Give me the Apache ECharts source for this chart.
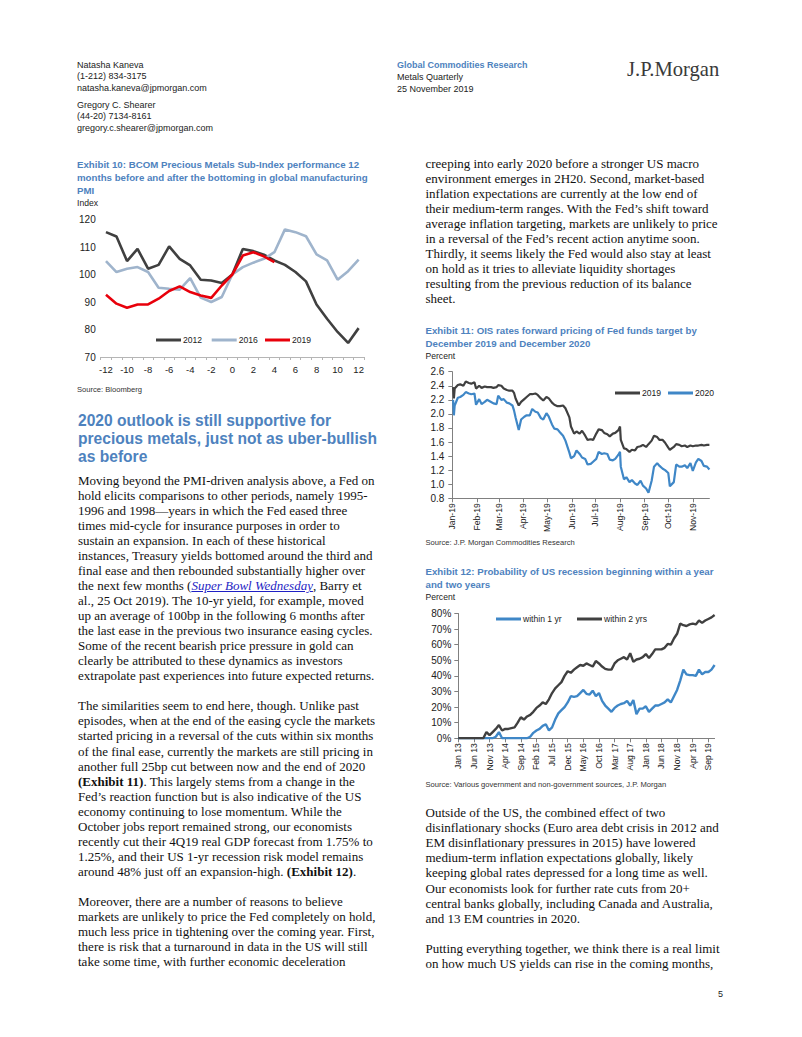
<!DOCTYPE html>
<html>
<head>
<meta charset="utf-8">
<script src="https://cdn.jsdelivr.net/npm/echarts@6/dist/echarts.min.js"></script>
<style>
  html, body { margin:0; padding:0; background:#fff; }
  #page { position:relative; width:802px; height:1037px; overflow:hidden; background:#fff; }
  #chart { position:absolute; left:0; top:0; width:802px; height:1037px; z-index:2; }
  .t { position:absolute; white-space:nowrap; z-index:1; }
  .sans { font-family:"Liberation Sans", Arial, sans-serif; }
  .serif { font-family:"Liberation Serif", "Times New Roman", serif; }
  .hdr { font-size:9px; line-height:11.3px; color:#222; }
  .blue { color:#4E82BE; }
  .body { font-size:13px; line-height:15.05px; color:#111; }
  .exh { font-size:9.7px; line-height:13.2px; font-weight:bold; color:#4E82BE; }
  .unit { font-size:8.6px; line-height:12px; color:#222; }
  .src { font-size:7.6px; line-height:10px; color:#333; }
  .head { font-size:15.6px; line-height:18.2px; font-weight:bold; color:#4E82BE; }
  a.lnk { color:#1f1fc4; font-style:italic; text-decoration:underline; }
</style>
</head>
<body>
<div id="page">
  <!-- header -->
  <div class="t sans hdr" style="left:77px; top:60px;">Natasha Kaneva<br>(1-212) 834-3175<br>natasha.kaneva@jpmorgan.com</div>
  <div class="t sans hdr" style="left:77px; top:100px;">Gregory C. Shearer<br>(44-20) 7134-8161<br>gregory.c.shearer@jpmorgan.com</div>
  <div class="t sans hdr" style="left:397px; top:60px; line-height:11.8px;"><b class="blue">Global Commodities Research</b><br>Metals Quarterly<br>25 November 2019</div>
  <div class="t serif" style="left:627px; top:57px; font-size:20.6px; line-height:24px; color:#3a3a3a;">J.P.Morgan</div>

  <!-- Exhibit 10 -->
  <div class="t sans exh" style="left:77px; top:157.5px;">Exhibit 10: BCOM Precious Metals Sub-Index performance 12<br>months before and after the bottoming in global manufacturing<br>PMI</div>
  <div class="t sans unit" style="left:77px; top:196.7px;">Index</div>
  <div class="t sans src" style="left:77px; top:385px;">Source: Bloomberg</div>

  <!-- Heading -->
  <div class="t sans head" style="left:78px; top:412px;">2020 outlook is still supportive for<br>precious metals, just not as uber-bullish<br>as before</div>

  <!-- Left body -->
  <div class="t serif body" style="left:78px; top:472.7px;">Moving beyond the PMI-driven analysis above, a Fed on<br>hold elicits comparisons to other periods, namely 1995-<br>1996 and 1998—years in which the Fed eased three<br>times mid-cycle for insurance purposes in order to<br>sustain an expansion. In each of these historical<br>instances, Treasury yields bottomed around the third and<br>final ease and then rebounded substantially higher over<br>the next few months (<a class="lnk">Super Bowl Wednesday</a>, Barry et<br>al., 25 Oct 2019). The 10-yr yield, for example, moved<br>up an average of 100bp in the following 6 months after<br>the last ease in the previous two insurance easing cycles.<br>Some of the recent bearish price pressure in gold can<br>clearly be attributed to these dynamics as investors<br>extrapolate past experiences into future expected returns.<br><br>The similarities seem to end here, though. Unlike past<br>episodes, when at the end of the easing cycle the markets<br>started pricing in a reversal of the cuts within six months<br>of the final ease, currently the markets are still pricing in<br>another full 25bp cut between now and the end of 2020<br><b>(Exhibit 11)</b>. This largely stems from a change in the<br>Fed’s reaction function but is also indicative of the US<br>economy continuing to lose momentum. While the<br>October jobs report remained strong, our economists<br>recently cut their 4Q19 real GDP forecast from 1.75% to<br>1.25%, and their US 1-yr recession risk model remains<br>around 48% just off an expansion-high. <b>(Exhibit 12)</b>.<br><br>Moreover, there are a number of reasons to believe<br>markets are unlikely to price the Fed completely on hold,<br>much less price in tightening over the coming year. First,<br>there is risk that a turnaround in data in the US will still<br>take some time, with further economic deceleration</div>

  <!-- Right body top -->
  <div class="t serif body" style="left:425.5px; top:155.7px;">creeping into early 2020 before a stronger US macro<br>environment emerges in 2H20. Second, market-based<br>inflation expectations are currently at the low end of<br>their medium-term ranges. With the Fed’s shift toward<br>average inflation targeting, markets are unlikely to price<br>in a reversal of the Fed’s recent action anytime soon.<br>Thirdly, it seems likely the Fed would also stay at least<br>on hold as it tries to alleviate liquidity shortages<br>resulting from the previous reduction of its balance<br>sheet.</div>

  <!-- Exhibit 11 -->
  <div class="t sans exh" style="left:425.5px; top:323.5px;">Exhibit 11: OIS rates forward pricing of Fed funds target by<br>December 2019 and December 2020</div>
  <div class="t sans unit" style="left:425.5px; top:349.7px;">Percent</div>
  <div class="t sans src" style="left:425.5px; top:538.3px;">Source: J.P. Morgan Commodities Research</div>

  <!-- Exhibit 12 -->
  <div class="t sans exh" style="left:425.5px; top:564.5px;">Exhibit 12: Probability of US recession beginning within a year<br>and two years</div>
  <div class="t sans unit" style="left:425.5px; top:591.3px;">Percent</div>
  <div class="t sans src" style="left:425.5px; top:780px;">Source: Various government and non-government sources, J.P. Morgan</div>

  <!-- Right body bottom -->
  <div class="t serif body" style="left:425.5px; top:805.3px;">Outside of the US, the combined effect of two<br>disinflationary shocks (Euro area debt crisis in 2012 and<br>EM disinflationary pressures in 2015) have lowered<br>medium-term inflation expectations globally, likely<br>keeping global rates depressed for a long time as well.<br>Our economists look for further rate cuts from 20+<br>central banks globally, including Canada and Australia,<br>and 13 EM countries in 2020.<br><br>Putting everything together, we think there is a real limit<br>on how much US yields can rise in the coming months,</div>

  <div class="t sans" style="left:718px; top:988px; font-size:9px; line-height:12px; color:#222;">5</div>

  <div id="chart"></div>
</div>
<script>
// ---------- Exhibit 10 ----------
const pmiMonths = ['-12','-11','-10','-9','-8','-7','-6','-5','-4','-3','-2','-1','0','1','2','3','4','5','6','7','8','9','10','11','12'];
const bcom2012 = [115.4,113.8,104.9,109.3,102.1,103.5,110.2,105.7,103.3,98.1,97.8,96.9,100,109.3,108.5,107.2,105.1,103.5,100.9,97.5,89.1,83.9,79.1,75.1,80.5];
const bcom2016 = [104.9,100.9,102.1,102.7,100.9,95.2,94.8,94.5,98.7,91.6,90.0,91.8,100,102.7,104.3,105.7,108.1,116.4,115.4,113.9,107.3,105.1,98.1,101.2,105.4];
const bcom2019 = [92.6,89.4,87.9,89.1,89.1,91.2,94.0,95.7,93.6,92.4,91.5,96.0,100,106.9,108.1,106.6,104.5];

// ---------- Exhibit 11 ----------
const oisDates = [
 '2019-01-02','2019-01-03','2019-01-04','2019-01-08','2019-01-11','2019-01-15','2019-01-18','2019-01-22','2019-01-25','2019-01-29','2019-01-31',
 '2019-02-04','2019-02-07','2019-02-11','2019-02-14','2019-02-19','2019-02-22','2019-02-26','2019-02-28',
 '2019-03-04','2019-03-07','2019-03-11','2019-03-14','2019-03-18','2019-03-20','2019-03-22','2019-03-26','2019-03-29',
 '2019-04-02','2019-04-05','2019-04-09','2019-04-12','2019-04-16','2019-04-19','2019-04-23','2019-04-26','2019-04-30',
 '2019-05-03','2019-05-07','2019-05-10','2019-05-14','2019-05-17','2019-05-21','2019-05-24','2019-05-29','2019-05-31',
 '2019-06-04','2019-06-07','2019-06-11','2019-06-14','2019-06-18','2019-06-21','2019-06-25','2019-06-28',
 '2019-07-02','2019-07-05','2019-07-09','2019-07-12','2019-07-16','2019-07-19','2019-07-23','2019-07-26','2019-07-30',
 '2019-08-01','2019-08-02','2019-08-06','2019-08-09','2019-08-13','2019-08-16','2019-08-20','2019-08-23','2019-08-27','2019-08-30',
 '2019-09-03','2019-09-06','2019-09-10','2019-09-13','2019-09-17','2019-09-20','2019-09-24','2019-09-27',
 '2019-10-01','2019-10-03','2019-10-08','2019-10-11','2019-10-15','2019-10-18','2019-10-22','2019-10-25','2019-10-29',
 '2019-11-01','2019-11-05','2019-11-08','2019-11-12','2019-11-15','2019-11-19','2019-11-22'
];
const ois2019 = [
 2.38,2.22,2.36,2.41,2.42,2.40,2.46,2.44,2.43,2.45,2.36,
 2.40,2.37,2.39,2.38,2.38,2.37,2.38,2.41,
 2.40,2.36,2.34,2.33,2.33,2.30,2.22,2.12,2.17,
 2.21,2.24,2.28,2.28,2.29,2.27,2.22,2.19,2.24,
 2.22,2.16,2.13,2.11,2.11,2.12,2.08,1.95,1.82,
 1.72,1.75,1.72,1.76,1.69,1.63,1.64,1.63,
 1.72,1.78,1.77,1.73,1.71,1.68,1.72,1.73,1.77,
 1.82,1.63,1.51,1.50,1.46,1.49,1.48,1.53,1.54,1.56,
 1.53,1.57,1.62,1.69,1.67,1.63,1.63,1.59,
 1.52,1.49,1.53,1.57,1.56,1.54,1.55,1.53,1.55,
 1.54,1.55,1.55,1.56,1.55,1.56,1.56
];
const ois2020 = [
 2.20,1.98,2.12,2.23,2.24,2.27,2.31,2.29,2.28,2.29,2.13,
 2.21,2.14,2.17,2.20,2.17,2.15,2.14,2.26,
 2.20,2.21,2.16,2.15,2.12,2.05,1.95,1.77,1.92,
 1.96,1.98,1.98,2.07,2.03,2.02,1.94,1.92,2.01,
 1.96,1.85,1.79,1.78,1.74,1.69,1.62,1.45,1.37,
 1.40,1.48,1.43,1.38,1.36,1.28,1.29,1.32,
 1.36,1.46,1.43,1.44,1.43,1.35,1.34,1.36,1.42,
 1.46,1.25,1.07,1.10,1.03,1.06,1.01,0.99,1.05,0.98,
 0.94,0.88,1.05,1.25,1.30,1.26,1.22,1.20,
 1.16,0.97,1.03,1.28,1.25,1.25,1.27,1.23,1.30,
 1.19,1.31,1.36,1.33,1.26,1.25,1.21
];
const monthAbbr = ['Jan','Feb','Mar','Apr','May','Jun','Jul','Aug','Sep','Oct','Nov','Dec'];

// ---------- Exhibit 12 ----------
const recMonths = [
 'Jan 13','Feb 13','Mar 13','Apr 13','May 13','Jun 13','Jul 13','Aug 13','Sep 13','Oct 13','Nov 13','Dec 13',
 'Jan 14','Feb 14','Mar 14','Apr 14','May 14','Jun 14','Jul 14','Aug 14','Sep 14','Oct 14','Nov 14','Dec 14',
 'Jan 15','Feb 15','Mar 15','Apr 15','May 15','Jun 15','Jul 15','Aug 15','Sep 15','Oct 15','Nov 15','Dec 15',
 'Jan 16','Feb 16','Mar 16','Apr 16','May 16','Jun 16','Jul 16','Aug 16','Sep 16','Oct 16','Nov 16','Dec 16',
 'Jan 17','Feb 17','Mar 17','Apr 17','May 17','Jun 17','Jul 17','Aug 17','Sep 17','Oct 17','Nov 17','Dec 17',
 'Jan 18','Feb 18','Mar 18','Apr 18','May 18','Jun 18','Jul 18','Aug 18','Sep 18','Oct 18','Nov 18','Dec 18',
 'Jan 19','Feb 19','Mar 19','Apr 19','May 19','Jun 19','Jul 19','Aug 19','Sep 19','Oct 19','Nov 19'
];
const within1yr = [
 0,0,0,0,0,0,0,0,0,0,0,0,
 1,4,0,0,0,0,0,0,0,0,0,1,
 3.5,5,6,8,9,5,7,12,16,18,20,23,
 27,26.5,27,29,31,28.5,28,30.5,27,29,24,21,
 19,17,19.5,21,22,22.5,24,21,24.5,15.5,19,19,
 20.5,17,19,21,21,22,23,25,23,27,31,37,
 44,41,40.5,40.5,40,44,41,42.5,42.5,44,47
];
const within2yrs = [
 0,0,0,0,0,0,0,0,0,4,2,4,
 6,8.5,5,6,6,6.5,7,10,13.5,12,14,15,
 17,19.5,21,23,22,25,29,32,34,36,40,43,
 42,44,45.5,47,46.5,48,47,46,49.5,48,46,44.5,
 44,44,48,50,51,52,50.5,54.5,49,50.5,51,52,
 54,51.5,54,57,57,57,58,60.5,60,64,67,73.5,
 72.5,72,73,73.5,73,75.5,74,75.5,76.5,77.5,79
];

const FONT = '"Liberation Sans", Arial, sans-serif';
const GRAY = '#404040', LBLUE = '#9FB4CC', RED = '#E8000B', BLUE = '#3F87C7';

const chart = echarts.init(document.getElementById('chart'), null, {renderer: 'svg'});

function legendItem(name, color, left, centerY) {
  return {
    show: true, left: left, top: centerY - 5.5, padding: 0, orient: 'horizontal',
    selectedMode: false, itemWidth: 25, itemHeight: 3, icon: 'rect',
    data: [{name: name, icon: 'rect', itemStyle: {color: color}}],
    textStyle: {fontFamily: FONT, fontSize: 8.6, color: '#222', padding: [0, 0, 0, -3]}
  };
}

const option = {
  animation: false,
  textStyle: {fontFamily: FONT},
  grid: [
    {left: 100.7, top: 219.5, width: 263.2, height: 137.5},
    {left: 452.3, top: 371.7, width: 257.1, height: 126.6},
    {left: 458.3, top: 613.5, width: 256.3, height: 124.8}
  ],
  xAxis: [
    {
      gridIndex: 0, type: 'category', data: pmiMonths, boundaryGap: true,
      axisLine: {lineStyle: {color: '#B5B5B5', width: 1}},
      axisTick: {show: true, interval: 0, length: 3, lineStyle: {color: '#B5B5B5'}},
      axisLabel: {interval: 1, fontSize: 9.5, color: '#222', margin: 7}
    },
    {
      gridIndex: 1, type: 'time', min: '2019-01-01', max: '2019-11-22', splitNumber: 11,
      minInterval: 28 * 24 * 3600 * 1000, maxInterval: 31 * 24 * 3600 * 1000,
      axisLine: {lineStyle: {color: '#808080', width: 1}},
      axisTick: {show: true, length: 4, lineStyle: {color: '#808080'}},
      splitLine: {show: false},
      axisLabel: {
        rotate: 90, fontSize: 8.6, color: '#222', margin: 5, showMaxLabel: false, hideOverlap: false,
        formatter: function (v) { const d = new Date(v); return monthAbbr[d.getMonth()] + '-' + String(d.getFullYear()).slice(2); }
      }
    },
    {
      gridIndex: 2, type: 'category', data: recMonths, boundaryGap: false,
      axisLine: {lineStyle: {color: '#808080', width: 1}},
      axisTick: {show: true, interval: 4, length: 4, lineStyle: {color: '#808080'}},
      axisLabel: {interval: 4, rotate: 90, fontSize: 8.6, color: '#222', margin: 5}
    }
  ],
  yAxis: [
    {
      gridIndex: 0, type: 'value', min: 70, max: 120, interval: 10,
      axisLine: {show: false}, axisTick: {show: false}, splitLine: {show: false},
      axisLabel: {fontSize: 10, color: '#222', margin: 5}
    },
    {
      gridIndex: 1, type: 'value', min: 0.8, max: 2.6, interval: 0.2,
      axisLine: {show: true, lineStyle: {color: '#808080', width: 1}},
      axisTick: {show: true, length: 4, lineStyle: {color: '#808080'}},
      splitLine: {show: false},
      axisLabel: {fontSize: 10, color: '#222', margin: 8, formatter: v => v.toFixed(1)}
    },
    {
      gridIndex: 2, type: 'value', min: 0, max: 80, interval: 10,
      axisLine: {show: true, lineStyle: {color: '#808080', width: 1}},
      axisTick: {show: true, length: 4, lineStyle: {color: '#808080'}},
      splitLine: {show: false},
      axisLabel: {fontSize: 10, color: '#222', margin: 7, formatter: '{value}%'}
    }
  ],
  legend: [
    legendItem('2012', GRAY, 156, 341),
    legendItem('2016', LBLUE, 211.7, 341),
    legendItem('2019', RED, 265, 341),
    legendItem('2019', GRAY, 615, 394),
    legendItem('2020', BLUE, 668, 394),
    legendItem('within 1 yr', BLUE, 496, 620),
    legendItem('within 2 yrs', GRAY, 577, 620)
  ],
  series: [
    {name: '2012', type: 'line', xAxisIndex: 0, yAxisIndex: 0, data: bcom2012, symbol: 'none', lineStyle: {color: GRAY, width: 2.6}, itemStyle: {color: GRAY}},
    {name: '2016', type: 'line', xAxisIndex: 0, yAxisIndex: 0, data: bcom2016, symbol: 'none', lineStyle: {color: LBLUE, width: 2.6}, itemStyle: {color: LBLUE}},
    {name: '2019', type: 'line', xAxisIndex: 0, yAxisIndex: 0, data: bcom2019, symbol: 'none', lineStyle: {color: RED, width: 2.6}, itemStyle: {color: RED}},
    {name: '2019', type: 'line', xAxisIndex: 1, yAxisIndex: 1, data: oisDates.map((d, i) => [d, ois2019[i]]), symbol: 'none', lineStyle: {color: GRAY, width: 2.2}, itemStyle: {color: GRAY}},
    {name: '2020', type: 'line', xAxisIndex: 1, yAxisIndex: 1, data: oisDates.map((d, i) => [d, ois2020[i]]), symbol: 'none', lineStyle: {color: BLUE, width: 2.2}, itemStyle: {color: BLUE}},
    {name: 'within 1 yr', type: 'line', xAxisIndex: 2, yAxisIndex: 2, data: within1yr, symbol: 'none', lineStyle: {color: BLUE, width: 2.4}, itemStyle: {color: BLUE}},
    {name: 'within 2 yrs', type: 'line', xAxisIndex: 2, yAxisIndex: 2, data: within2yrs, symbol: 'none', lineStyle: {color: GRAY, width: 2.4}, itemStyle: {color: GRAY}}
  ]
};
chart.setOption(option);
</script>
</body>
</html>
